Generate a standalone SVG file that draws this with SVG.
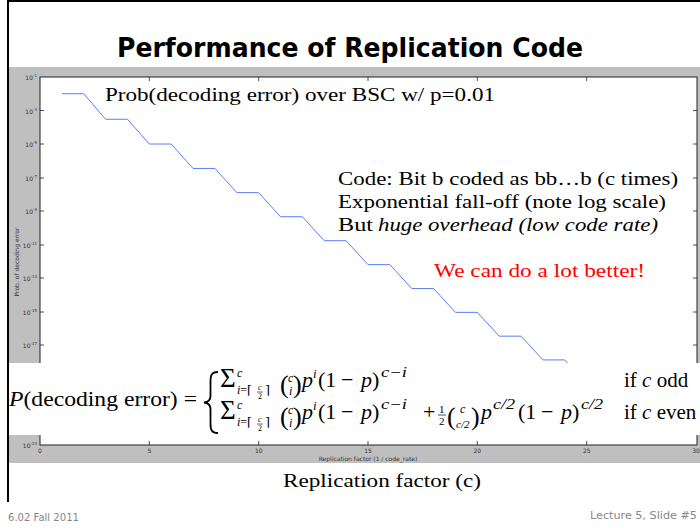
<svg xmlns="http://www.w3.org/2000/svg" width="700" height="528" viewBox="0 0 700 528">
<style>
.tick{font-family:"DejaVu Sans",sans-serif;font-size:6px;fill:#333}
.ser{font-family:"Liberation Serif","DejaVu Serif",serif;fill:#000}
.it{font-style:italic}
.tk{stroke:#222;stroke-width:0.8}
</style>
<rect width="700" height="528" fill="#fff"/>
<!-- slide border -->
<line x1="8" y1="0" x2="8" y2="502" stroke="#000" stroke-width="2"/>
<line x1="8" y1="1" x2="700" y2="1" stroke="#000" stroke-width="2"/>
<!-- title -->
<text x="117" y="57" font-family="'DejaVu Sans',sans-serif" font-weight="bold" font-size="27" textLength="466" lengthAdjust="spacingAndGlyphs" fill="#000">Performance of Replication Code</text>
<!-- plot figure -->
<g id="plot">
<rect x="9" y="67" width="691" height="396" fill="#bfbfbf"/>
<rect x="40" y="77" width="657" height="368" fill="#fff" stroke="#222" stroke-width="1"/>
<g id="ticks" class="tk">
<path d="M40 110.5h4M40 144h4M40 178h4M40 211h4M40 245h4M40 278h4M40 312h4M40 345h4M40 379h4M40 412h4M697 110.5h-4M697 144h-4M697 178h-4M697 211h-4M697 245h-4M697 278h-4M697 312h-4M697 345h-4M697 379h-4M697 412h-4"/>
<path d="M149.3 445v-4M258.7 445v-4M368 445v-4M477.3 445v-4M586.7 445v-4M149.3 77v4M258.7 77v4M368 77v4M477.3 77v4M586.7 77v4"/>
</g>
<g class="tick" text-anchor="end">
<text x="37" y="80">10<tspan font-size="4" dy="-3">-1</tspan></text>
<text x="37" y="113.5">10<tspan font-size="4" dy="-3">-3</tspan></text>
<text x="37" y="147">10<tspan font-size="4" dy="-3">-5</tspan></text>
<text x="37" y="181">10<tspan font-size="4" dy="-3">-7</tspan></text>
<text x="37" y="214">10<tspan font-size="4" dy="-3">-9</tspan></text>
<text x="37" y="248">10<tspan font-size="4" dy="-3">-11</tspan></text>
<text x="37" y="281">10<tspan font-size="4" dy="-3">-13</tspan></text>
<text x="37" y="315">10<tspan font-size="4" dy="-3">-15</tspan></text>
<text x="37" y="348">10<tspan font-size="4" dy="-3">-17</tspan></text>
<text x="37" y="448">10<tspan font-size="4" dy="-3">-23</tspan></text>
</g>
<g class="tick" text-anchor="middle">
<text x="40" y="453">0</text>
<text x="149.3" y="453">5</text>
<text x="258.7" y="453">10</text>
<text x="368" y="453">15</text>
<text x="477.3" y="453">20</text>
<text x="586.7" y="453">25</text>
<text x="696" y="453">30</text>
<text x="368" y="461">Replication factor (1 / code_rate)</text>
<text transform="translate(19 262) rotate(-90)">Prob. of decoding error</text>
</g>
<polyline fill="none" stroke="#5b7cf5" stroke-width="1" points="61.87,93.73 83.73,93.73 105.6,119.25 127.47,119.25 149.33,144.02 171.2,144.02 193.07,168.44 214.93,168.44 236.8,192.65 258.67,192.65 280.53,216.74 302.4,216.74 324.27,240.72 346.13,240.72 368,264.65 389.87,264.65 411.73,288.52 433.6,288.52 455.47,312.35 477.33,312.35 499.2,336.15 521.07,336.15 542.93,359.91 564.8,359.91 586.67,383.65 608.53,383.65 630.4,407.37 652.27,407.37 674.13,431.07 696,431.07"/>
<text class="ser" x="105" y="101" font-size="19" textLength="390" lengthAdjust="spacingAndGlyphs">Prob(decoding error) over BSC w/ p=0.01</text>
<text class="ser" x="338" y="185" font-size="19" textLength="340" lengthAdjust="spacingAndGlyphs">Code: Bit b coded as bb…b (c times)</text>
<text class="ser" x="338" y="208" font-size="19" textLength="328" lengthAdjust="spacingAndGlyphs">Exponential fall-off (note log scale)</text>
<text class="ser" x="338" y="231" font-size="19" textLength="35" lengthAdjust="spacingAndGlyphs">But</text>
<text class="ser it" x="378" y="231" font-size="19" textLength="280" lengthAdjust="spacingAndGlyphs">huge overhead (low code rate)</text>
<text class="ser" x="434" y="277" font-size="19" textLength="211" lengthAdjust="spacingAndGlyphs" style="fill:#f00">We can do a lot better!</text>
</g>
<!-- formula -->
<g id="formula">
<rect x="9" y="363" width="691" height="72" fill="#fff"/>
<text class="ser" x="9" y="406" font-size="22" textLength="188" lengthAdjust="spacingAndGlyphs"><tspan class="it">P</tspan>(decoding error) =</text>
<path d="M218 372 C211 372 210.5 376 210.5 382 L210.5 396 C210.5 400 208.5 402 204 402.5 C208.5 403 210.5 405 210.5 409 L210.5 423 C210.5 429 211 433 218 433" fill="none" stroke="#000" stroke-width="1.8"/>
<g id="row1" class="ser">
<text x="220" y="387" font-size="27">Σ</text>
<text class="it" x="237" y="377" font-size="12">c</text>
<text x="237" y="394" font-size="12"><tspan class="it">i</tspan>=⌈</text>
<text class="it" x="258" y="390" font-size="8">c</text>
<line x1="257" y1="392" x2="263" y2="392" stroke="#000" stroke-width="0.6"/>
<text x="258" y="399" font-size="8">2</text>
<text x="265" y="394" font-size="12">⌉</text>
<text x="280" y="393" font-size="26">(</text>
<text class="it" x="288" y="382" font-size="12">c</text>
<text class="it" x="289" y="395" font-size="12">i</text>
<text x="293" y="393" font-size="26">)</text>
<text class="it" x="302" y="387" font-size="22">p</text>
<text class="it" x="313" y="378" font-size="13">i</text>
<text x="318" y="387" font-size="22">(1</text>
<text x="341" y="387" font-size="22">−</text>
<text class="it" x="361" y="387" font-size="22">p</text>
<text x="372" y="387" font-size="22">)</text>
<text class="it" x="381" y="377" font-size="14" textLength="26" lengthAdjust="spacingAndGlyphs">c−i</text>
<text x="624" y="387" font-size="21">if <tspan class="it">c</tspan> odd</text>
</g>
<g id="row2" class="ser">
<text x="220" y="419" font-size="27">Σ</text>
<text class="it" x="237" y="409" font-size="12">c</text>
<text x="237" y="426" font-size="12"><tspan class="it">i</tspan>=⌈</text>
<text class="it" x="258" y="422" font-size="8">c</text>
<line x1="257" y1="424" x2="263" y2="424" stroke="#000" stroke-width="0.6"/>
<text x="258" y="431" font-size="8">2</text>
<text x="265" y="426" font-size="12">⌉</text>
<text x="280" y="425" font-size="26">(</text>
<text class="it" x="288" y="414" font-size="12">c</text>
<text class="it" x="289" y="427" font-size="12">i</text>
<text x="293" y="425" font-size="26">)</text>
<text class="it" x="302" y="419" font-size="22">p</text>
<text class="it" x="313" y="410" font-size="13">i</text>
<text x="318" y="419" font-size="22">(1</text>
<text x="341" y="419" font-size="22">−</text>
<text class="it" x="361" y="419" font-size="22">p</text>
<text x="372" y="419" font-size="22">)</text>
<text class="it" x="381" y="409" font-size="14" textLength="26" lengthAdjust="spacingAndGlyphs">c−i</text>
<text x="423" y="419" font-size="22">+</text>
<text x="439" y="413" font-size="11">1</text>
<line x1="438" y1="415" x2="446" y2="415" stroke="#000" stroke-width="0.7"/>
<text x="439" y="425" font-size="11">2</text>
<text x="447" y="425" font-size="26">(</text>
<text class="it" x="460" y="413" font-size="12">c</text>
<text class="it" x="456" y="428" font-size="11">c/2</text>
<text x="471" y="425" font-size="26">)</text>
<text class="it" x="481" y="419" font-size="22">p</text>
<text class="it" x="493" y="409" font-size="15" textLength="22" lengthAdjust="spacingAndGlyphs">c/2</text>
<text x="518" y="419" font-size="22">(1</text>
<text x="541" y="419" font-size="22">−</text>
<text class="it" x="561" y="419" font-size="22">p</text>
<text x="572" y="419" font-size="22">)</text>
<text class="it" x="581" y="409" font-size="15" textLength="22" lengthAdjust="spacingAndGlyphs">c/2</text>
<text x="624" y="419" font-size="21">if <tspan class="it">c</tspan> even</text>
</g>
</g>
<text class="ser" x="283" y="487" font-size="19" textLength="198" lengthAdjust="spacingAndGlyphs">Replication factor (c)</text>
<g id="footer" font-family="'DejaVu Sans Condensed','DejaVu Sans',sans-serif" font-size="11" fill="#888">
<text x="8" y="521" textLength="71" lengthAdjust="spacingAndGlyphs">6.02 Fall 2011</text>
<text x="590" y="519" textLength="107" lengthAdjust="spacingAndGlyphs">Lecture 5, Slide #5</text>
</g>
</svg>
